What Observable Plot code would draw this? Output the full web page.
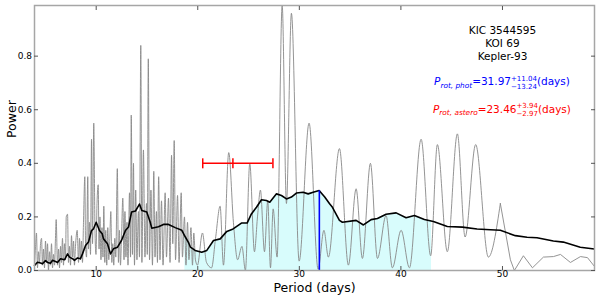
<!DOCTYPE html>
<html><head><meta charset="utf-8">
<script src="https://cdn.jsdelivr.net/npm/d3@7"></script>
<script src="https://cdn.jsdelivr.net/npm/@observablehq/plot@0.6"></script>
<style>
html,body{margin:0;padding:0;background:#fff;}
#chart{width:599px;height:300px;}
</style></head><body><div id="chart"></div>
<script>
// Periodogram (gray)
const grayPeriod = [3.93,4.03,4.12,4.22,4.32,4.42,4.52,4.62,4.71,4.81,4.91,5.01,5.11,5.21,5.30,5.40,5.50,5.60,5.70,5.80,5.90,5.99,6.06,6.19,6.29,6.39,6.49,6.58,6.68,6.78,6.88,6.98,7.05,7.18,7.27,7.37,7.47,7.57,7.67,7.77,7.86,7.96,8.13,8.26,8.36,8.45,8.55,8.65,8.75,8.88,8.95,9.05,9.17,9.24,9.34,9.44,9.54,9.64,9.76,9.88,9.98,10.08,10.20,10.28,10.37,10.47,10.57,10.67,10.75,10.85,10.94,11.04,11.14,11.24,11.34,11.44,11.54,11.63,11.73,11.83,11.93,12.08,12.19,12.29,12.39,12.49,12.62,12.74,12.83,12.93,13.03,13.13,13.28,13.38,13.45,13.57,13.67,13.77,13.89,14.01,14.16,14.26,14.39,14.50,14.65,14.80,14.95,15.03,15.13,15.25,15.39,15.54,15.67,15.79,15.93,16.03,16.15,16.28,16.43,16.58,16.79,16.92,17.12,17.27,17.42,17.54,17.68,17.81,18.01,18.16,18.37,18.49,18.69,18.84,18.99,19.13,19.33,19.48,19.61,19.77,19.97,20.46,20.86,21.36,21.75,22.20,22.53,23.05,23.51,23.92,24.35,24.69,25.12,25.58,25.88,26.17,26.57,26.89,27.16,27.42,27.81,28.31,28.73,29.22,29.98,30.96,31.85,32.42,32.86,33.95,34.83,35.59,36.21,37.00,37.69,38.54,39.16,40.02,40.84,41.99,42.93,43.59,44.57,45.56,46.32,47.36,48.61,49.79,50.78,51.17,52.06,52.95,54.03,55.02,55.71,56.69,57.68,58.37,59.06];
const grayPower = [0.02,0.09,0.14,0.01,0.07,0.03,0.10,0.12,0.02,0.08,0.01,0.11,0.03,0.10,0.00,0.07,0.02,0.10,0.01,0.06,0.02,0.12,0.19,0.02,0.08,0.01,0.09,0.03,0.12,0.02,0.10,0.04,0.20,0.21,0.03,0.09,0.02,0.13,0.05,0.11,0.02,0.09,0.15,0.03,0.12,0.04,0.11,0.03,0.18,0.35,0.10,0.05,0.35,0.08,0.18,0.06,0.49,0.10,0.55,0.15,0.06,0.25,0.32,0.08,0.20,0.04,0.16,0.05,0.24,0.03,0.15,0.02,0.16,0.04,0.12,0.22,0.03,0.10,0.02,0.12,0.05,0.38,0.03,0.15,0.02,0.12,0.27,0.04,0.22,0.05,0.18,0.02,0.29,0.05,0.58,0.06,0.40,0.02,0.30,0.04,0.22,0.05,0.84,0.03,0.45,0.05,0.25,0.06,0.79,0.04,0.30,0.02,0.37,0.05,0.22,0.03,0.35,0.04,0.26,0.02,0.29,0.05,0.27,0.03,0.43,0.10,0.485,0.04,0.28,0.03,0.29,0.05,0.20,0.02,0.18,0.04,0.16,0.02,0.14,0.04,0.02,0.14,0.03,0.01,0.12,0.24,0.02,0.44,0.18,0.04,0.09,0.00,0.40,0.07,0.20,0.30,0.07,0.26,0.01,0.23,0.05,0.99,0.25,0.96,0.035,0.55,0.005,0.15,0.05,0.455,0.02,0.305,0.045,0.40,0.045,0.205,0.01,0.15,0.01,0.49,0.055,0.47,0.07,0.51,0.125,0.47,0.05,0.25,0.04,0.00,0.055,0.01,0.05,0.052,0.06,0.03,0.052,0.048,0.015];
// Smoothed curve (black)
const smoothPeriod = [3.93,4.22,4.52,4.71,5.01,5.21,5.50,5.70,5.99,6.19,6.49,6.88,7.18,7.37,7.67,7.86,8.16,8.45,8.65,8.95,9.24,9.54,9.73,10.00,10.32,10.59,10.72,11.11,11.41,11.70,12.10,12.49,12.88,13.18,13.48,13.87,14.26,14.49,14.98,15.32,15.47,16.13,16.62,17.12,17.78,18.43,18.79,19.08,19.28,19.74,20.39,20.89,21.55,22.21,22.86,23.48,24.30,24.86,25.28,25.78,26.27,26.76,27.09,27.75,28.24,28.73,29.22,29.71,30.37,30.87,31.36,31.95,32.50,32.96,33.26,33.95,34.24,35.59,36.31,37.07,37.69,38.54,39.53,40.51,41.33,42.31,43.20,44.57,46.05,47.50,48.81,49.79,51.27,52.42,53.40,55.01,55.99,57.66,59.04];
const smoothPower = [0.019,0.031,0.028,0.025,0.037,0.030,0.027,0.038,0.034,0.030,0.044,0.040,0.062,0.050,0.044,0.038,0.047,0.044,0.062,0.093,0.106,0.149,0.155,0.180,0.149,0.137,0.118,0.100,0.062,0.081,0.087,0.112,0.149,0.162,0.218,0.222,0.248,0.224,0.218,0.180,0.158,0.163,0.172,0.172,0.160,0.150,0.124,0.105,0.087,0.075,0.068,0.075,0.112,0.118,0.146,0.155,0.177,0.177,0.211,0.236,0.264,0.261,0.255,0.286,0.280,0.267,0.274,0.289,0.292,0.286,0.292,0.2985,0.274,0.250,0.236,0.187,0.180,0.187,0.170,0.190,0.194,0.210,0.215,0.197,0.205,0.190,0.183,0.164,0.162,0.155,0.152,0.150,0.130,0.124,0.122,0.110,0.106,0.087,0.080];
const xTicks = [10, 20, 30, 40, 50];
const yTicks = [0, 0.2, 0.4, 0.6, 0.8];
const pPhot = 31.97, pPhotPlus = 11.04, pPhotMinus = 13.24;
const pAst = 23.46, pAstPlus = 3.94, pAstMinus = 2.97;
const errorbarLevel = 0.4;
const starLabels = ["KIC 3544595", "KOI 69", "Kepler-93"];

const gray = grayPeriod.map((p, i) => ({p, v: grayPower[i]}));
const smooth = smoothPeriod.map((p, i) => ({p, v: smoothPower[i]}));
function interp(p) {
  const i = Math.max(1, Math.min(smooth.length - 1, d3.bisector(d => d.p).right(smooth, p)));
  const a = smooth[i - 1], b = smooth[i];
  const t = (p - a.p) / (b.p - a.p);
  return a.v + t * (b.v - a.v);
}
const lo = pPhot - pPhotMinus, hi = pPhot + pPhotPlus;
const band = [{p: lo, v: interp(lo)}, ...smooth.filter(d => d.p > lo && d.p < hi), {p: hi, v: interp(hi)}];
const barSymbol = {draw(ctx, size) { const h = Math.sqrt(size / Math.PI); ctx.moveTo(0, -h); ctx.lineTo(0, h); }};
const tailStart = 49.79;

const plot = Plot.plot({
  width: 599, height: 300,
  marginTop: 5, marginRight: 5, marginBottom: 30, marginLeft: 34,
  style: {fontFamily: "DejaVu Sans", fontSize: "9px", background: "#fff", color: "#000"},
  x: {domain: [3.926, 59.06]},
  y: {domain: [0, 0.989]},
  marks: [
    Plot.areaY(band, {x: "p", y: "v", fill: "#d8fcfc"}),
    Plot.line(gray.filter(d => d.p <= tailStart), {x: "p", y: "v", stroke: "#888", strokeWidth: 0.9, curve: "monotone-x"}),
    Plot.line(gray.filter(d => d.p >= tailStart), {x: "p", y: "v", stroke: "#888", strokeWidth: 0.9}),
    Plot.line(smooth, {x: "p", y: "v", stroke: "#000", strokeWidth: 1.6}),
    Plot.ruleX([pPhot], {y1: 0, y2: interp(pPhot), stroke: "blue", strokeWidth: 1.6}),
    Plot.ruleY([errorbarLevel], {x1: pAst - pAstMinus, x2: pAst + pAstPlus, stroke: "red", strokeWidth: 1.5}),
    Plot.dot([pAst - pAstMinus, pAst, pAst + pAstPlus], {x: d => d, y: errorbarLevel, symbol: barSymbol, r: 5, stroke: "red", strokeWidth: 1.5, fill: "none"}),
    Plot.frame({stroke: "#a6a6a6", strokeWidth: 1.5}),
    Plot.axisX(xTicks, {anchor: "bottom", tickSize: -4, tickPadding: 4.5, stroke: "#555", fill: "#000", tickFormat: d => String(d), label: null}),
    Plot.axisX(xTicks, {anchor: "top", tickSize: -4, fill: "none", stroke: "#555", label: null}),
    Plot.axisY(yTicks, {anchor: "left", tickSize: -4, tickPadding: 6.5, stroke: "#555", fill: "#000", tickFormat: ".1f", label: null}),
    Plot.axisY(yTicks, {anchor: "right", tickSize: -4, fill: "none", stroke: "#555", label: null}),
    Plot.text(["Power"], {frameAnchor: "left", dx: -23, rotate: -90, fontSize: 12.5, text: d => d}),
    Plot.text(["Period (days)"], {frameAnchor: "bottom", dy: 21, fontSize: 12.5, text: d => d}),
    Plot.text([starLabels.join("\n")], {x: 50, y: 0.85, fontSize: 10.5, lineHeight: 1.27, text: d => d})
  ]
});
document.getElementById("chart").append(plot);

// Math-style annotations positioned through Plot's scales
const xs = plot.scale("x"), ys = plot.scale("y");
function mathLabel(cxVal, yVal, color, sub, val, plus, minus) {
  const t = d3.select(plot).append("text")
    .attr("x", 0).attr("y", ys.apply(yVal))
    .attr("fill", color).attr("font-family", "DejaVu Sans").attr("font-size", 10.5);
  t.append("tspan").attr("font-style", "italic").text("P");
  t.append("tspan").attr("font-style", "italic").attr("font-size", 7.35).attr("dy", 2.5).text(sub);
  t.append("tspan").attr("dy", -2.5).text("=" + val.toFixed(2));
  const sup = t.append("tspan").attr("font-size", 7).attr("dy", -4.5).text("+" + plus.toFixed(2));
  const subt = t.append("tspan").attr("font-size", 7).attr("dy", 8).text("\u2212" + minus.toFixed(2));
  t.append("tspan").attr("dy", -3.5).text("(days)");
  subt.attr("dx", -sup.node().getComputedTextLength());
  const bb = t.node().getBBox();
  t.attr("x", xs.apply(cxVal) - bb.width / 2 - bb.x);
}
mathLabel(50, 0.69, "blue", "rot, phot", pPhot, pPhotPlus, pPhotMinus);
mathLabel(50, 0.587, "red", "rot, astero", pAst, pAstPlus, pAstMinus);
</script>
</body></html>
